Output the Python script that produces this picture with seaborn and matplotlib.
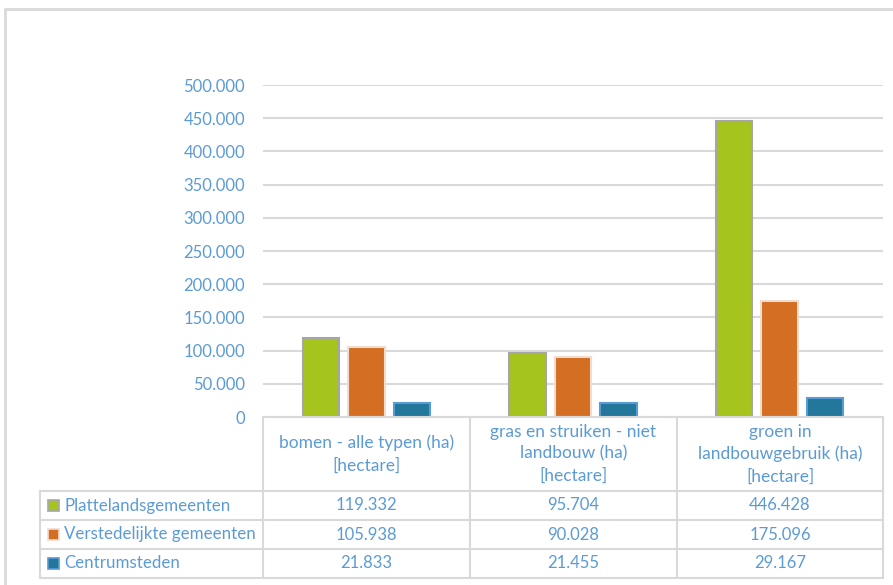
import numpy as np
import pandas as pd
import seaborn as sns
import matplotlib.pyplot as plt
from matplotlib.ticker import FuncFormatter
from matplotlib.patches import Rectangle

categories = ['bomen - alle typen (ha)\n[hectare]',
              'gras en struiken - niet\nlandbouw (ha)\n[hectare]',
              'groen in\nlandbouwgebruik (ha)\n[hectare]']
series = ['Plattelandsgemeenten', 'Verstedelijkte gemeenten', 'Centrumsteden']
platteland = [119332, 95704, 446428]
verstedelijkt = [105938, 90028, 175096]
centrum = [21833, 21455, 29167]

colors = ['#a5c41d', '#d46e23', '#22779a']
edges = ['#a6a6a6', '#f2dccd', '#5b9bd5']
txt = '#5b9bd5'
grid = '#d9d9d9'

sns.set_theme(style='white')
plt.rcParams['font.family'] = ['Lato', 'DejaVu Sans']

W, H = 893, 585
fig = plt.figure(figsize=(W / 100, H / 100), dpi=100)

def fx(x):
    return x / W

def fy(y):
    return 1 - y / H

# plot area
ax = fig.add_axes([fx(263), fy(417), fx(883) - fx(263), fy(85) - fy(417)])

df = pd.DataFrame({
    'cat': np.repeat(range(3), 3),
    'serie': series * 3,
    'val': [v for trio in zip(platteland, verstedelijkt, centrum) for v in trio],
})
sns.barplot(data=df, x='cat', y='val', hue='serie', hue_order=series,
            palette=colors, saturation=1, width=0.66, gap=0.2, legend=False, ax=ax)

for i, cont in enumerate(ax.containers):
    for bar in cont:
        bar.set_edgecolor(edges[i])
        bar.set_linewidth(1.5)
        bar.set_zorder(3)

ax.set_ylim(0, 500000)
ax.set_xlim(-0.5, 2.5)
ax.set_yticks(np.arange(0, 500001, 50000))
ax.yaxis.set_major_formatter(FuncFormatter(lambda v, p: f'{int(v):,}'.replace(',', '.')))
ax.tick_params(axis='y', colors=txt, labelsize=12, length=0, pad=13)
ax.set_xticks([])
ax.set_xlabel('')
ax.set_ylabel('')
for s in ax.spines.values():
    s.set_visible(False)
ax.grid(axis='y', color=grid, linewidth=1.5, zorder=0)
ax.set_axisbelow(True)

# outer chart border
fig.add_artist(plt.Line2D([fx(5), fx(5)], [fy(9), 0], color=grid, lw=2))
fig.add_artist(plt.Line2D([fx(5), 1], [fy(9), fy(9)], color=grid, lw=2))

# data table
col_x = [263, 470, 677, 883]
row_y = [417, 491, 520, 549, 578]
lw = 1.5
fig.add_artist(plt.Line2D([fx(263), fx(883)], [fy(417), fy(417)], color=grid, lw=lw))
for y in row_y[1:]:
    fig.add_artist(plt.Line2D([fx(40), fx(883)], [fy(y), fy(y)], color=grid, lw=lw))
for x in col_x:
    fig.add_artist(plt.Line2D([fx(x), fx(x)], [fy(417), fy(578)], color=grid, lw=lw))
fig.add_artist(plt.Line2D([fx(40), fx(40)], [fy(491), fy(578)], color=grid, lw=lw))

for j, cat in enumerate(categories):
    cx = (col_x[j] + col_x[j + 1]) / 2
    fig.text(fx(cx), fy(454), cat, ha='center', va='center', color=txt,
             fontsize=12.5, linespacing=1.45)

values = [platteland, verstedelijkt, centrum]
for i, name in enumerate(series):
    cy = (row_y[i + 1] + row_y[i + 2]) / 2
    fig.add_artist(Rectangle((fx(48), fy(cy + 5.5)), fx(11), 11 / H,
                             facecolor=colors[i], edgecolor=edges[i], lw=1.2))
    fig.text(fx(64), fy(cy), name, ha='left', va='center', color=txt, fontsize=12.2)
    for j in range(3):
        cx = (col_x[j] + col_x[j + 1]) / 2
        fig.text(fx(cx), fy(cy), f'{values[i][j]:,}'.replace(',', '.'),
                 ha='center', va='center', color=txt, fontsize=12)

fig.savefig('out.png', dpi=100, facecolor='white')
